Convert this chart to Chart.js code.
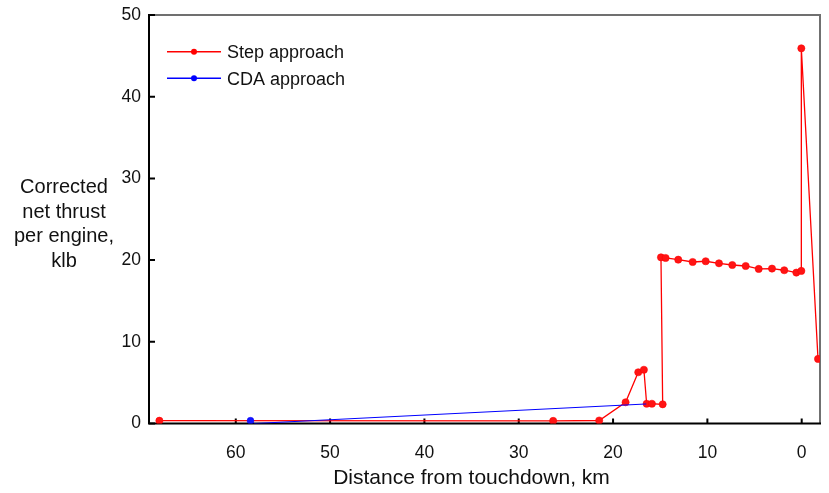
<!DOCTYPE html>
<html><head><meta charset="utf-8">
<script src="https://cdn.jsdelivr.net/npm/chart.js@4.4.0/dist/chart.umd.min.js"></script>
<style>html,body{margin:0;padding:0;background:#fff;}</style>
</head><body>
<canvas id="c" width="829" height="493"></canvas>
<script>
const stepLabel = 'Step approach';
const cdaLabel = 'CDA approach';
const stepX = [68.1, 26.35, 21.47, 18.67, 17.33, 16.73, 16.44, 15.88, 14.74, 14.92, 14.43, 13.09, 11.56, 10.18, 8.77, 7.36, 5.94, 4.56, 3.15, 1.85, 0.57, 0.04, 0.04, -1.73];
const stepY = [0.34, 0.32, 0.37, 2.6, 6.27, 6.58, 2.42, 2.42, 2.35, 20.34, 20.26, 20.05, 19.77, 19.86, 19.61, 19.4, 19.28, 18.92, 18.96, 18.76, 18.47, 18.68, 45.92, 7.9];
const cdaX = [58.44, 58.0, 16.48];
const cdaY = [0.34, 0.0, 2.39];
const xTickValues = [60, 50, 40, 30, 20, 10, 0];
const yTickValues = [0, 10, 20, 30, 40, 50];
const xTitle = 'Distance from touchdown, km';
const yTitleLines = ['Corrected', 'net thrust', 'per engine,', 'klb'];
const FONT = "'Liberation Sans', Arial, Helvetica, sans-serif";
const TEXT = '#111';

const decor = {
  id: 'decor',
  beforeDatasetsDraw(chart) {
    const ctx = chart.ctx, a = chart.chartArea;
    const xs = chart.scales.x, ys = chart.scales.y;
    ctx.save();
    ctx.lineWidth = 2;
    ctx.strokeStyle = '#707070';
    ctx.beginPath();
    ctx.moveTo(a.left, a.top); ctx.lineTo(a.right, a.top); ctx.lineTo(a.right, a.bottom);
    ctx.stroke();
    ctx.strokeStyle = '#000';
    ctx.beginPath();
    ctx.moveTo(a.left, a.top - 1); ctx.lineTo(a.left, a.bottom); ctx.lineTo(a.right + 1, a.bottom);
    ctx.stroke();
    ctx.beginPath();
    xTickValues.forEach(v => { const p = xs.getPixelForValue(v); ctx.moveTo(p, a.bottom); ctx.lineTo(p, a.bottom - 5); });
    yTickValues.forEach(v => { const p = ys.getPixelForValue(v); ctx.moveTo(a.left, p); ctx.lineTo(a.left + 6, p); });
    ctx.stroke();
    ctx.fillStyle = TEXT;
    ctx.font = '20px ' + FONT;
    ctx.textAlign = 'center';
    ctx.textBaseline = 'middle';
    yTitleLines.forEach((t, i) => ctx.fillText(t, 64, 187.5 + i * 24.7));
    ctx.font = '21px ' + FONT;
    ctx.fillText(xTitle, 471.5, 478);
    ctx.restore();
  },
  afterDatasetsDraw(chart) {
    const ctx = chart.ctx, a = chart.chartArea;
    ctx.save();
    const items = chart.data.datasets.map(d => ({label: d.label, color: d.borderColor}));
    items.forEach((it, i) => {
      const y = a.top + 36.7 + i * 26.6;
      ctx.strokeStyle = it.color; ctx.lineWidth = 1.5;
      ctx.beginPath(); ctx.moveTo(a.left + 18, y); ctx.lineTo(a.left + 72, y); ctx.stroke();
      ctx.fillStyle = it.color;
      ctx.beginPath(); ctx.arc(a.left + 45, y, 3, 0, Math.PI * 2); ctx.fill();
      ctx.fillStyle = TEXT;
      ctx.font = '18px ' + FONT;
      ctx.textAlign = 'left'; ctx.textBaseline = 'middle';
      ctx.fillText(it.label, a.left + 78, y + 1.5);
    });
    ctx.restore();
  }
};

new Chart(document.getElementById('c'), {
  type: 'scatter',
  data: {
    datasets: [
      {label: stepLabel, data: stepX.map((x, i) => ({x, y: stepY[i]})), showLine: true,
       borderColor: '#ff0000', borderWidth: 1.3, pointRadius: 3.6, pointBackgroundColor: '#ff1414',
       pointBorderColor: 'rgba(255,0,0,0.55)', pointBorderWidth: 1, order: 1},
      {label: cdaLabel, data: cdaX.map((x, i) => ({x, y: cdaY[i]})), showLine: true,
       borderColor: '#0000ff', borderWidth: 1, pointRadius: [3.4, 0, 0], pointBackgroundColor: '#1414ff',
       pointBorderColor: 'rgba(0,0,255,0.55)', pointBorderWidth: 1, order: 0}
    ]
  },
  options: {
    responsive: false, animation: false, devicePixelRatio: 1,
    layout: {padding: {left: 0, right: 9, top: 15, bottom: 0}},
    plugins: {legend: {display: false}, tooltip: {enabled: false}},
    scales: {
      x: {type: 'linear', reverse: true, min: -1.94, max: 69.2,
          grid: {display: false, drawTicks: false}, border: {display: false},
          afterBuildTicks(s) { s.ticks = xTickValues.map(v => ({value: v})); },
          afterFit(s) { s.height = 69.5; s.paddingLeft = 0; s.paddingRight = 0; },
          ticks: {font: {family: FONT, size: 17.5}, color: TEXT, padding: 19, maxRotation: 0, autoSkip: false},
          title: {display: false, text: xTitle}
      },
      y: {type: 'linear', min: 0, max: 50,
          grid: {display: false, drawTicks: false}, border: {display: false},
          afterBuildTicks(s) { s.ticks = yTickValues.map(v => ({value: v})); },
          afterFit(s) { s.width = 149; s.paddingTop = 0; s.paddingBottom = 0; },
          ticks: {font: {family: FONT, size: 17.5}, color: TEXT, padding: 8}
      }
    }
  },
  plugins: [decor]
});
</script>
</body></html>
